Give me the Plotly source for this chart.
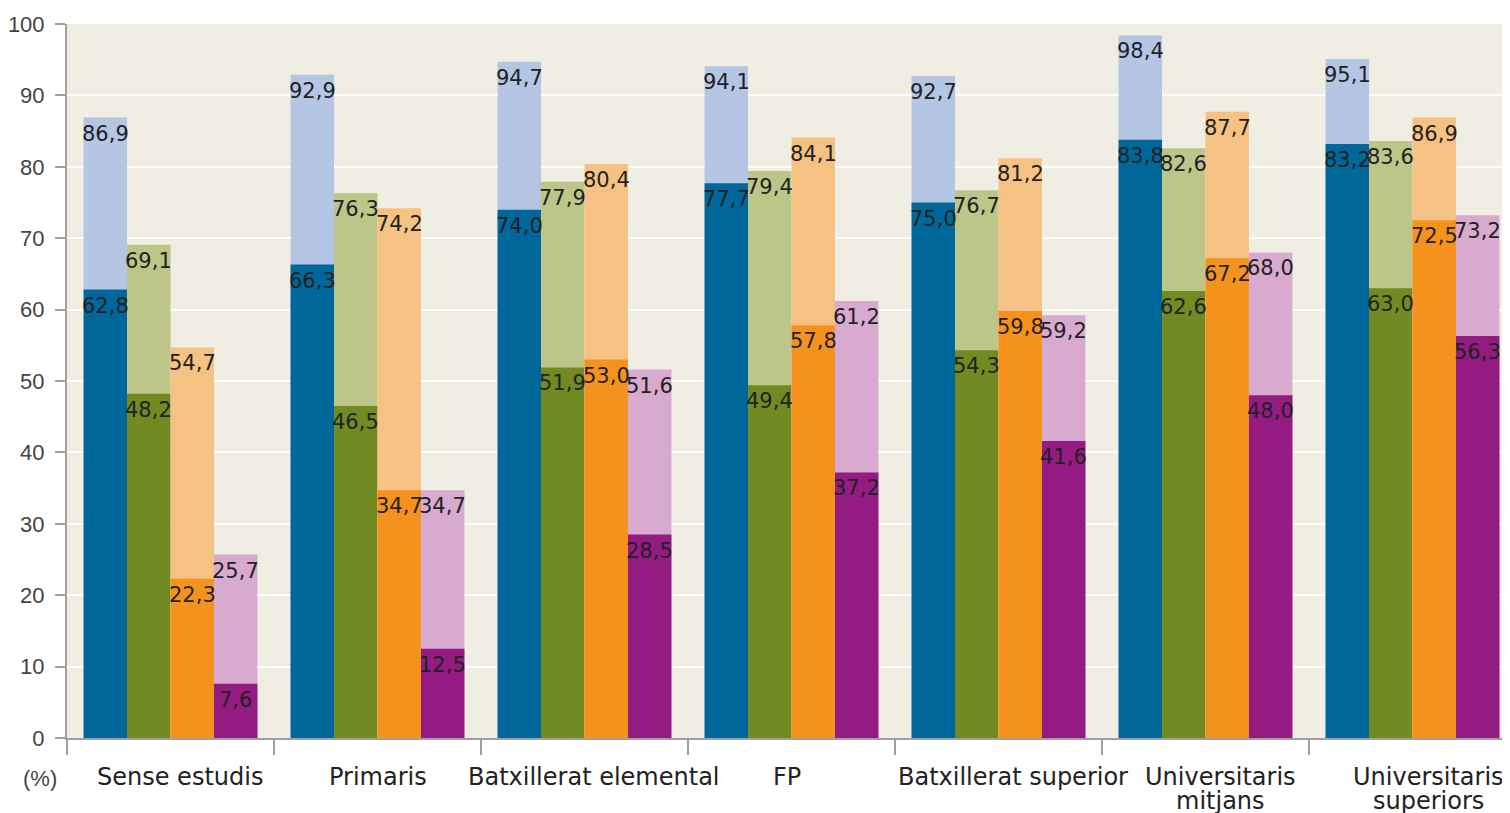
import plotly.graph_objects as go

categories = ["Sense estudis", "Primaris", "Batxillerat elemental", "FP",
              "Batxillerat superior", "Universitaris<br>mitjans", "Universitaris<br>superiors"]

blue_low = [62.8, 66.3, 74.0, 77.7, 75.0, 83.8, 83.2]
blue_high = [86.9, 92.9, 94.7, 94.1, 92.7, 98.4, 95.1]
green_low = [48.2, 46.5, 51.9, 49.4, 54.3, 62.6, 63.0]
green_high = [69.1, 76.3, 77.9, 79.4, 76.7, 82.6, 83.6]
orange_low = [22.3, 34.7, 53.0, 57.8, 59.8, 67.2, 72.5]
orange_high = [54.7, 74.2, 80.4, 84.1, 81.2, 87.7, 86.9]
purple_low = [7.6, 12.5, 28.5, 37.2, 41.6, 48.0, 56.3]
purple_high = [25.7, 34.7, 51.6, 61.2, 59.2, 68.0, 73.2]

y_ticks = [0, 10, 20, 30, 40, 50, 60, 70, 80, 90, 100]

# horizontal nudges (px) of the category labels, as in the original layout
label_dx = [9, 0, 9, -5, 14, 15, 16]

series = [
    (blue_low, blue_high, "#00679B", "#B4C6E3"),
    (green_low, green_high, "#718B22", "#BDC688"),
    (orange_low, orange_high, "#F5921E", "#F5C284"),
    (purple_low, purple_high, "#931B81", "#D9AACF"),
]

bar_w = 0.21
start = -0.42

fig = go.Figure()
annotations = []
xs = list(range(len(categories)))

def fmt(v):
    return f"{v:.1f}".replace(".", ",")

for i, (low, high, dark, light) in enumerate(series):
    off = start + i * bar_w
    fig.add_trace(go.Bar(x=categories, y=high, marker=dict(color=light, line=dict(width=0)),
                         offset=off, width=bar_w, showlegend=False, hoverinfo="skip"))
    fig.add_trace(go.Bar(x=categories, y=low, marker=dict(color=dark, line=dict(width=0)),
                         offset=off, width=bar_w, showlegend=False, hoverinfo="skip"))
    for k in xs:
        cx = k + off + bar_w / 2
        for v in (high[k], low[k]):
            annotations.append(dict(x=cx, y=v, xref="x", yref="y", text=fmt(v),
                                    showarrow=False, xanchor="center", yanchor="middle",
                                    yshift=-16,
                                    font=dict(family="DejaVu Sans", size=21, color="#222222")))

# category labels
for k, cat in enumerate(categories):
    for j, line in enumerate(cat.split("<br>")):
        annotations.append(dict(x=k, y=0, xref="x", yref="paper", text=line,
                                showarrow=False, xanchor="center", yanchor="middle",
                                xshift=label_dx[k], yshift=-39 - 24 * j,
                                font=dict(family="DejaVu Sans", size=24, color="#222222")))

annotations.append(dict(x=0, y=0, xref="paper", yref="paper", xanchor="center",
                        yanchor="middle", text="(%)", showarrow=False,
                        xshift=-27, yshift=-40,
                        font=dict(family="Liberation Sans", size=22, color="#444444")))

fig.update_layout(
    width=1510, height=813,
    barmode="overlay",
    plot_bgcolor="#F0EDE2",
    paper_bgcolor="#FFFFFF",
    margin=dict(l=59, r=2, t=16, b=83),
    annotations=annotations,
    xaxis=dict(
        type="category",
        range=[-0.5, 6.5],
        tickson="boundaries",
        showticklabels=False,
        automargin=False,
        ticks="outside", ticklen=15, tickwidth=2, tickcolor="#A0A0A0",
        showline=True, linecolor="#A0A0A0", linewidth=2,
        showgrid=False,
    ),
    yaxis=dict(
        range=[0, 100],
        tickvals=y_ticks,
        automargin=False,
        ticks="outside", ticklen=10, tickwidth=2, tickcolor="#A0A0A0",
        ticklabelstandoff=6,
        showline=True, linecolor="#A0A0A0", linewidth=2,
        showgrid=True, gridcolor="#FFFFFF", gridwidth=2,
        zeroline=False,
        tickfont=dict(family="Liberation Sans", size=22, color="#444444"),
    ),
)

fig.write_html("out.html")
